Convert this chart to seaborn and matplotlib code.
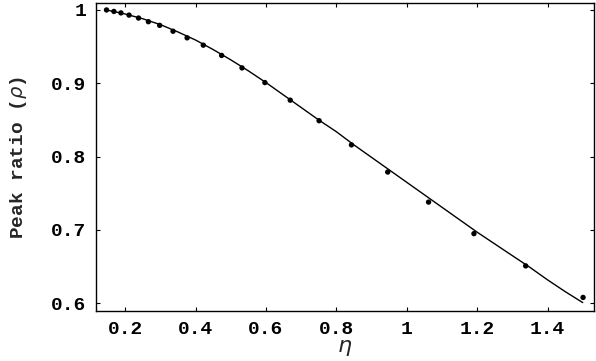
import numpy as np
import pandas as pd
import matplotlib
matplotlib.use("Agg")
import matplotlib.pyplot as plt
import seaborn as sns

# ── Data ──────────────────────────────────────────────────────────────────────
eta_points = [0.147, 0.168, 0.188, 0.211, 0.238, 0.266, 0.298, 0.336, 0.376,
              0.422, 0.474, 0.532, 0.597, 0.669, 0.751, 0.843, 0.946, 1.062,
              1.191, 1.338, 1.501]
rho_points = [1.000, 0.998, 0.996, 0.993, 0.989, 0.984, 0.979, 0.971, 0.962,
              0.952, 0.938, 0.921, 0.901, 0.877, 0.849, 0.816, 0.779, 0.738,
              0.695, 0.651, 0.608]

eta_curve = [0.147, 0.20, 0.25, 0.30, 0.35, 0.40, 0.45, 0.50, 0.55, 0.60,
             0.65, 0.70, 0.75, 0.80, 0.85, 0.90, 0.95, 1.00, 1.05, 1.10,
             1.15, 1.20, 1.25, 1.30, 1.35, 1.40, 1.45, 1.50]
rho_curve = [1.000, 0.9945, 0.988, 0.980, 0.970, 0.959, 0.946, 0.932, 0.917,
             0.901, 0.884, 0.867, 0.850, 0.834, 0.816, 0.799, 0.782, 0.765,
             0.748, 0.731, 0.714, 0.697, 0.681, 0.665, 0.649, 0.632, 0.616,
             0.601]

x_ticks = [0.2, 0.4, 0.6, 0.8, 1.0, 1.2, 1.4]
x_tick_labels = ["0.2", "0.4", "0.6", "0.8", "1", "1.2", "1.4"]
y_ticks = [0.6, 0.7, 0.8, 0.9, 1.0]
y_tick_labels = ["0.6", "0.7", "0.8", "0.9", "1"]

pts = pd.DataFrame({"eta": eta_points, "rho": rho_points})
curve = pd.DataFrame({"eta": eta_curve, "rho": rho_curve})

# ── Plot ──────────────────────────────────────────────────────────────────────
sns.set_style("ticks")
mono = "Liberation Mono"

fig = plt.figure(figsize=(5.96, 3.61), dpi=100)
ax = fig.add_axes([0.161, 0.1385, 0.8356, 0.8532])

sns.lineplot(data=curve, x="eta", y="rho", color="black", linewidth=1.0,
             sort=False, ax=ax)
sns.scatterplot(data=pts, x="eta", y="rho", color="black", s=15,
                edgecolor="none", ax=ax, zorder=3)

ax.set_xlim(0.117, 1.532)
ax.set_ylim(0.5895, 1.0095)

ax.set_xticks(x_ticks)
ax.set_xticklabels(x_tick_labels, fontfamily=mono, fontweight="bold", fontsize=14)
ax.set_yticks(y_ticks)
ax.set_yticklabels(y_tick_labels, fontfamily=mono, fontweight="bold", fontsize=14)
ax.tick_params(direction="in", length=3, width=0.8, top=True, right=True,
               pad=7, colors="black")

for s in ax.spines.values():
    s.set_linewidth(1.0)
    s.set_color("black")

ax.set_xlabel(r"$\eta$", fontsize=16, labelpad=0)
ax.set_ylabel(r"Peak ratio ($\rho$)", fontfamily=mono, fontweight="bold",
              fontsize=14, labelpad=16)

fig.savefig("out.png", dpi=100)
